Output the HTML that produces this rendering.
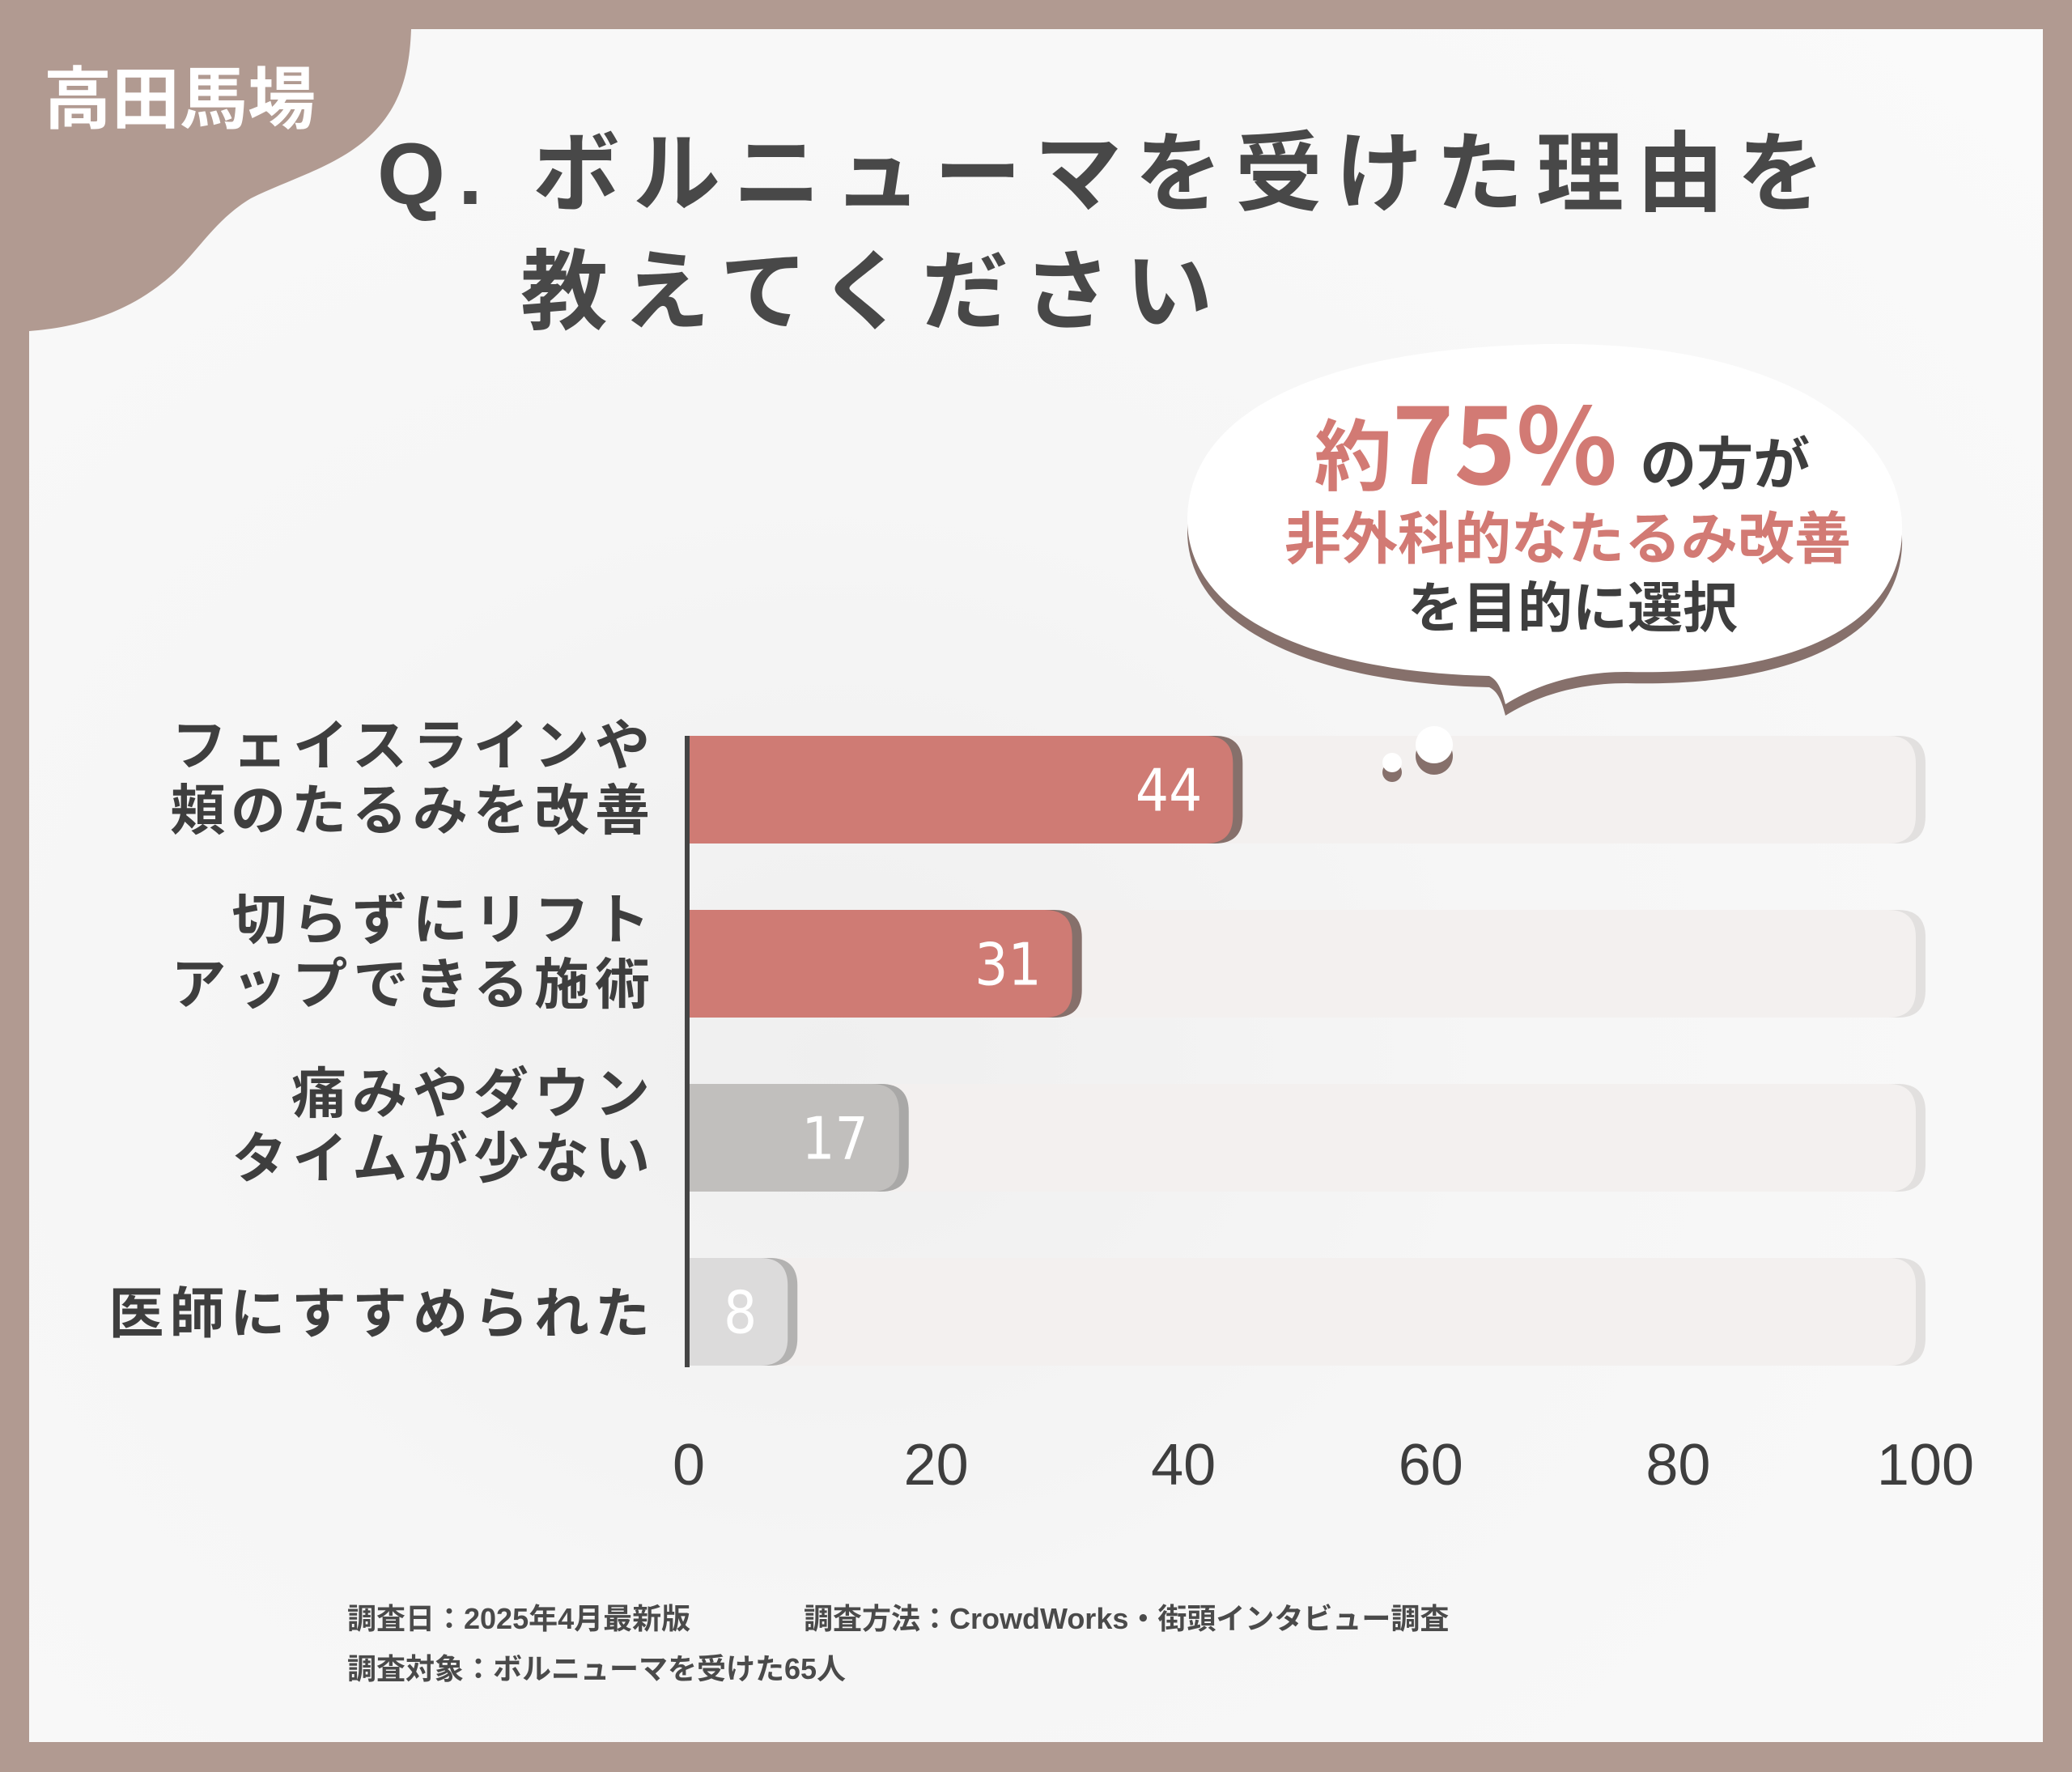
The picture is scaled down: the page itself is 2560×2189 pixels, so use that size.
<!DOCTYPE html>
<html><head><meta charset="utf-8">
<style>
html,body{margin:0;padding:0;}
body{width:2560px;height:2189px;background:#b19a91;position:relative;overflow:hidden;font-family:"Liberation Sans","Noto Sans CJK JP",sans-serif;}
#card{position:absolute;left:36px;top:36px;width:2488px;height:2116px;background:radial-gradient(ellipse at 40% 60%,#efefef 0%,#f6f6f6 40%,#fafafa 100%);}
svg{position:absolute;left:0;top:0;}
</style></head>
<body>
<div id="card"></div>
<svg id="chart" width="2560" height="2189" viewBox="0 0 2560 2189">
  <path d="M36 36 L508 36 C506 90 495 130 460 165 C420 205 360 220 310 245 C260 275 240 320 200 350 C150 390 90 405 36 409 Z" fill="#b19a91"/>
  <text x="54" y="152" font-size="84" font-weight="700" fill="#ffffff" font-family="Noto Sans CJK JP, sans-serif">高田馬場</text>
  <text x="466" y="252" font-size="108" font-weight="700" fill="#484848" letter-spacing="16" font-family="Liberation Sans, Noto Sans CJK JP, sans-serif">Q. ボルニューマを受けた理由を</text>
  <text x="643" y="398" font-size="108" font-weight="700" fill="#484848" letter-spacing="18" font-family="Noto Sans CJK JP, sans-serif">教えてください</text>
  <g>
    <path d="M1910 425 C2180 420 2355 520 2350 660 C2345 780 2200 835 2010 830 C1950 830 1900 845 1860 870 C1855 850 1850 840 1840 835 C1620 830 1465 760 1467 640 C1470 500 1650 430 1910 425 Z" fill="#86706b" transform="translate(0,14)"/>
    <path d="M1910 425 C2180 420 2355 520 2350 660 C2345 780 2200 835 2010 830 C1950 830 1900 845 1860 870 C1855 850 1850 840 1840 835 C1620 830 1465 760 1467 640 C1470 500 1650 430 1910 425 Z" fill="#ffffff"/>
  </g>
  <text x="1930" y="598" text-anchor="middle" font-family="Noto Sans CJK JP, sans-serif" font-weight="700"><tspan fill="#d27a74" font-size="96">約</tspan><tspan fill="#d27a74" font-size="130">75%</tspan><tspan fill="#3e3e3e" font-size="70" dx="12"> の方が</tspan></text>
  <text x="1937" y="690" text-anchor="middle" font-size="70" font-weight="700" fill="#d27a74" font-family="Noto Sans CJK JP, sans-serif">非外科的なたるみ改善</text>
  <text x="1943" y="775" text-anchor="middle" font-size="68" font-weight="700" fill="#3e3e3e" font-family="Noto Sans CJK JP, sans-serif">を目的に選択</text>
  <g id="bars"></g>
  <g>
    <circle cx="1772" cy="934" r="23" fill="#86706b"/><circle cx="1772" cy="920" r="23" fill="#ffffff"/>
    <circle cx="1720" cy="954" r="12" fill="#86706b"/><circle cx="1720" cy="942" r="12" fill="#ffffff"/>
  </g>
  <g id="labels"></g>
  <g id="ticks"></g>
  <rect x="846" y="909" width="6" height="780" fill="#444"/>
  <text x="429" y="2012" font-size="36" font-weight="700" fill="#4a4a4a" font-family="Liberation Sans, Noto Sans CJK JP, sans-serif">調査日：2025年4月最新版</text>
  <text x="993" y="2012" font-size="36" font-weight="700" fill="#4a4a4a" font-family="Liberation Sans, Noto Sans CJK JP, sans-serif">調査方法：CrowdWorks・街頭インタビュー調査</text>
  <text x="429" y="2074" font-size="36" font-weight="700" fill="#4a4a4a" font-family="Liberation Sans, Noto Sans CJK JP, sans-serif">調査対象：ボルニューマを受けた65人</text>
</svg>
<script>
const categories = [["フェイスラインや","頬のたるみを改善"],["切らずにリフト","アップできる施術"],["痛みやダウン","タイムが少ない"],["医師にすすめられた"]];
const values = [44, 31, 17, 8];
const tickValues = [0, 20, 40, 60, 80, 100];
const barColors = ["#cf7b74","#cf7b74","#c1bfbd","#dcdbdb"];
const shadowColors = ["#86706b","#86706b","#a9a8a7","#b3b2b1"];

const NS = "http://www.w3.org/2000/svg";
const x0 = 851, x1 = 2379, xMax = 100;
function xs(v){ return x0 + (x1 - x0) * v / xMax; }
const rowTop = 909, rowPitch = 215, barH = 133;
function ys(i){ return rowTop + i * rowPitch; }
function mk(tag, attrs){ const e = document.createElementNS(NS, tag); for (const k in attrs) e.setAttribute(k, attrs[k]); return e; }
function roundRight(x, y, w, h, r){
  r = Math.min(r, w);
  return `M${x} ${y} H${x+w-r} Q${x+w} ${y} ${x+w} ${y+r} V${y+h-r} Q${x+w} ${y+h} ${x+w-r} ${y+h} H${x} Z`;
}
const bars = document.getElementById("bars");
const labels = document.getElementById("labels");
const ticks = document.getElementById("ticks");
values.forEach((v, i) => {
  const y = ys(i);
  const tw = xs(100) - x0;
  const ts = mk("path", {d: roundRight(x0, y, tw, barH, 34), fill: "#e2e0df"});
  
  
  bars.appendChild(ts);
  const tr = mk("path", {d: roundRight(x0, y, tw - 12, barH, 34), fill: "#f3f0ef"});
  
  
  bars.appendChild(tr);
  const w = xs(v) - x0;
  const sh = mk("path", {d: roundRight(x0, y, w + 12, barH, 34), fill: shadowColors[i]});
  
  
  bars.appendChild(sh);
  const b = mk("path", {d: roundRight(x0, y, w, barH, 34), fill: barColors[i]});
  
  
  bars.appendChild(b);
  const t = mk("text", {x: xs(v) - 38, y: y + barH/2 + 26, "text-anchor": "end", "font-size": "72", fill: "#ffffff", "font-family": "DejaVu Sans Condensed, Liberation Sans Narrow, sans-serif"});
  t.textContent = v;
  
  
  bars.appendChild(t);
  const lines = categories[i];
  lines.forEach((ln, j) => {
    const cy = lines.length === 1 ? y + barH/2 + 26 : y + 36 + j * 80;
    const lt = mk("text", {x: 810, y: cy, "text-anchor": "end", "font-size": "68", "font-weight": "700", fill: "#3e3e3e", "letter-spacing": "7", "font-family": "Noto Sans CJK JP, sans-serif"});
    lt.textContent = ln;
    
    
    labels.appendChild(lt);
  });
});
tickValues.forEach(tv => {
  const t = mk("text", {x: xs(tv), y: 1834, "text-anchor": "middle", "font-size": "72", fill: "#3e3e3e", "font-family": "Liberation Sans, sans-serif"});
  t.textContent = tv;
  
  
  ticks.appendChild(t);
});
</script>
</body></html>
